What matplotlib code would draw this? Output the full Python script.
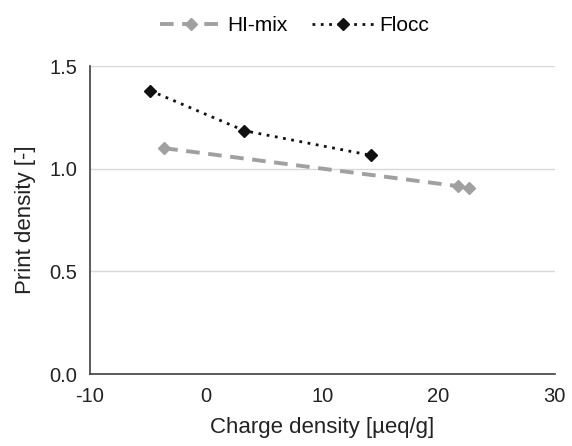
import matplotlib.pyplot as plt

plt.rcParams['font.family'] = ['Liberation Sans', 'DejaVu Sans']
plt.rcParams['axes.unicode_minus'] = False

# data
himix_x = [-3.6, 21.7, 22.6]
himix_y = [1.10, 0.915, 0.905]
flocc_x = [-4.8, 3.3, 14.2]
flocc_y = [1.38, 1.185, 1.065]

fig = plt.figure(figsize=(5.72, 4.46), dpi=100)
ax = fig.add_axes([0.157, 0.161, 0.813, 0.691])

ax.plot(himix_x, himix_y, color='#a0a0a0', linestyle=(0, (3.5, 2.2)), linewidth=2.8,
        marker='D', markersize=6.5, label='HI-mix')
ax.plot(flocc_x, flocc_y, color='#111111', linestyle=(0, (1, 2)), linewidth=2,
        marker='D', markersize=6.5, label='Flocc')

ax.set_xlim(-10, 30)
ax.set_ylim(0, 1.5)
ax.set_xticks([-10, 0, 10, 20, 30])
ax.set_yticks([0.0, 0.5, 1.0, 1.5])
ax.set_yticklabels(['0.0', '0.5', '1.0', '1.5'])
ax.grid(axis='y', color='#d9d9d9', linewidth=1)
ax.set_axisbelow(True)
for s in ['top', 'right']:
    ax.spines[s].set_visible(False)
for s in ['left', 'bottom']:
    ax.spines[s].set_color('#404040')
    ax.spines[s].set_linewidth(1.2)
ax.tick_params(length=0, labelsize=14.5, colors='#222222', pad=9)
ax.set_xlabel('Charge density [µeq/g]', fontsize=16, color='#222222', labelpad=8)
ax.set_ylabel('Print density [-]', fontsize=16, color='#222222', labelpad=10)

ax.legend(loc='lower center', bbox_to_anchor=(0.44, 1.04), ncol=2, frameon=False,
          fontsize=15, handlelength=3, columnspacing=1.2, handletextpad=0.2)

fig.savefig('out.png', dpi=100)
